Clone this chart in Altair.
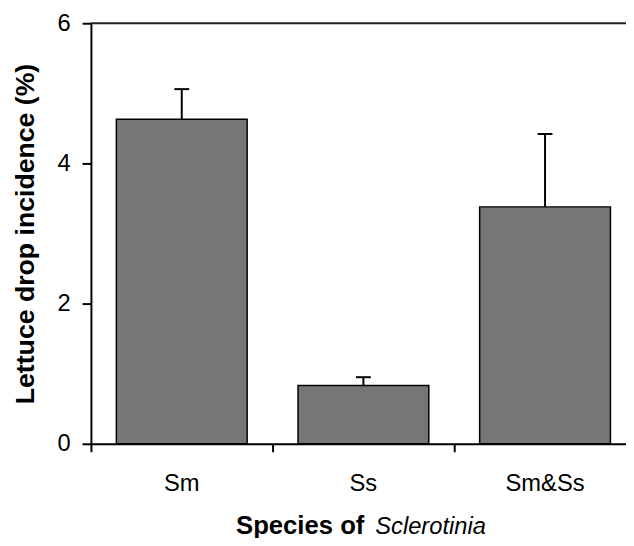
import altair as alt
import pandas as pd

# Data
species = ["Sm", "Ss", "Sm&Ss"]
incidence = [4.63, 0.83, 3.38]
std_error = [0.43, 0.12, 1.04]
y_ticks = [0, 2, 4, 6]

df = pd.DataFrame({"species": species, "incidence": incidence, "se": std_error})

FONT = "Liberation Sans"

x_scale = alt.Scale(range=[0, 552], paddingInner=0.28, paddingOuter=0.14)
y_scale = alt.Scale(domain=[0, 6], nice=False, zero=True)

x_bottom = alt.X(
    "species:N",
    sort=species,
    scale=x_scale,
    axis=alt.Axis(
        title=None, orient="bottom", labelAngle=0, labelFont=FONT, labelFontSize=24,
        labelColor="black", labelBaseline="alphabetic", labelPadding=39,
        tickSize=8, tickWidth=2, tickColor="black", domainWidth=2,
        domainColor="black", bandPosition=-0.1944, grid=False,
    ),
)

y_axis = alt.Axis(
    values=y_ticks, format="d", title="Lettuce drop incidence (%)", titleFont=FONT,
    titleFontSize=27, titleFontWeight="bold", titleColor="black", titleAngle=270,
    titleX=-58, titleY=213, titleAlign="center", titleBaseline="alphabetic",
    labelFont=FONT, labelFontSize=24, labelColor="black", labelPadding=12,
    tickSize=9, tickWidth=2, tickColor="black", domainWidth=2,
    domainColor="black", grid=False,
)

base = alt.Chart(df).transform_calculate(upper="datum.incidence + datum.se")

bars = base.mark_bar(fill="#767676", stroke="black", strokeWidth=1.5).encode(
    x=x_bottom,
    y=alt.Y("incidence:Q", scale=y_scale, axis=y_axis),
)

err = base.mark_rule(strokeWidth=2, color="black").encode(
    x=alt.X("species:N", sort=species),
    y=alt.Y("incidence:Q"),
    y2="upper:Q",
)

cap = base.mark_tick(size=15, thickness=2, color="black", opacity=1).encode(
    x=alt.X("species:N", sort=species),
    y=alt.Y("upper:Q"),
)

top_line = alt.Chart(pd.DataFrame({"v": [6]})).mark_rule(
    color="#222", strokeWidth=2
).encode(y=alt.Y("v:Q"))

t1 = alt.Chart(pd.DataFrame({"t": ["Species of"]})).mark_text(
    align="right", baseline="alphabetic", font=FONT, fontSize=26,
    fontWeight="bold", color="black",
).encode(x=alt.value(277), y=alt.value(517), text="t:N")

t2 = alt.Chart(pd.DataFrame({"t": ["Sclerotinia"]})).mark_text(
    align="left", baseline="alphabetic", font=FONT, fontSize=24,
    fontStyle="italic", color="black",
).encode(x=alt.value(288), y=alt.value(517), text="t:N")

chart = (
    alt.layer(bars, err, cap, top_line, t1, t2)
    .properties(
        width=542, height=426, autosize="none",
        padding={"left": 84, "top": 12, "right": 0, "bottom": 92},
        background="white",
    )
    .configure_view(stroke=None)
)

chart.save("out.html", embed_options={"renderer": "svg", "actions": False})
